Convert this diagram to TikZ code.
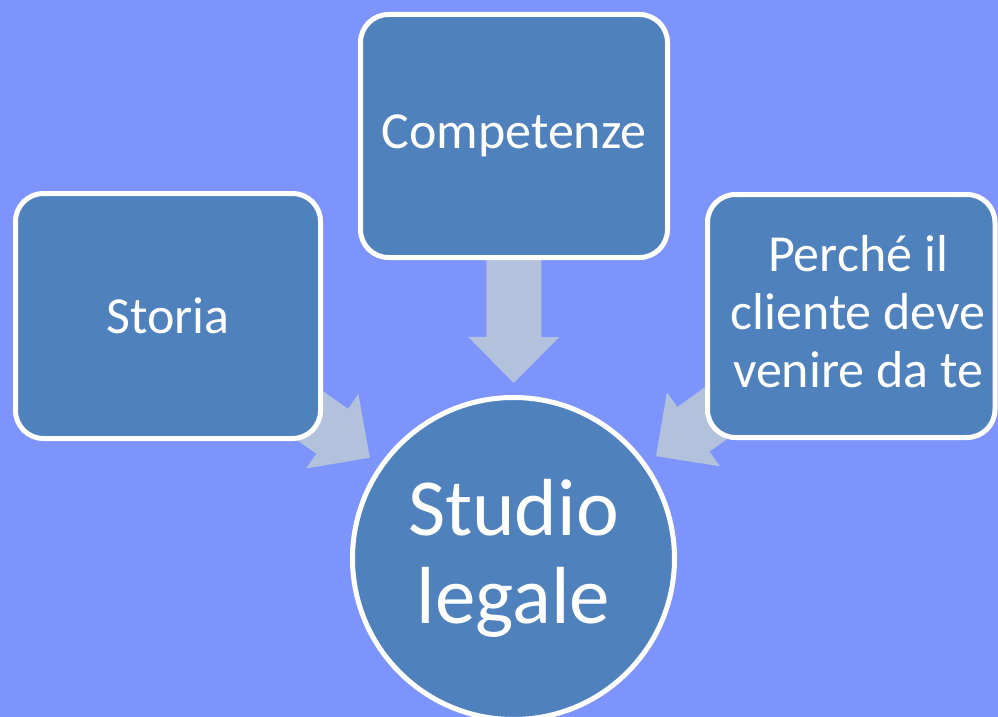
\documentclass[tikz,border=0pt]{standalone}
\usepackage{fontspec}
\setmainfont{Carlito}
\usetikzlibrary{calc}
\definecolor{bgcol}{RGB}{126,148,253}
\definecolor{boxcol}{RGB}{79,129,189}
\definecolor{arrcol}{RGB}{178,194,220}
\pgfdeclarelayer{bglayer}
\pgfdeclarelayer{arrlayer}
\pgfsetlayers{bglayer,arrlayer,main}
% block arrow from node #1 towards node #2
\newcommand\blockarr[2]{%
  \coordinate (T) at ($(#2.center)!175.5pt!(#1.center)$);
  \coordinate (H) at ($(#2.center)!221.5pt!(#1.center)$);
  \fill[arrcol] (T) -- ($(H)!45.5pt!90:(T)$) -- ($(H)!27.5pt!90:(T)$)
    -- ($(#1.center)!27.5pt!90:(#2.center)$) -- ($(#1.center)!27.5pt!-90:(#2.center)$)
    -- ($(H)!27.5pt!-90:(T)$) -- ($(H)!45.5pt!-90:(T)$) -- cycle;}
\begin{document}
\begin{tikzpicture}[x=1pt,y=-1pt,
  box/.style={draw=white, line width=5pt, fill=boxcol, rounded corners=28pt,
    text=white, font=\fontsize{52}{58}\selectfont, align=center, inner sep=0pt},
  boxtext/.style={text=white, font=\fontsize{52}{58}\selectfont, align=center, inner sep=0pt},
  hub/.style={circle, draw=white, line width=5pt, fill=boxcol, minimum size=322pt,
    text=white, font=\fontsize{81}{88}\selectfont, align=center, inner sep=0pt}]
  \useasboundingbox (0,0) rectangle (998,717);
  \begin{pgfonlayer}{bglayer}
    \fill[bgcol] (0,0) rectangle (998,717);
  \end{pgfonlayer}
  \node[box, minimum width=305pt, minimum height=245pt] (storia) at (168,316) {Storia};
  \node[box, minimum width=307pt, minimum height=243pt] (comp) at (514,136) {Competenze};
  \node[box, minimum width=287.5pt, minimum height=243pt] (perche) at (851.25,316) {};
  \node[boxtext] (perchetxt) at (858,312) {Perché il\\cliente deve\\venire da te};
  \node[hub] (studio) at (513.5,558.5) {Studio\\legale};
  \begin{pgfonlayer}{arrlayer}
    \blockarr{storia}{studio}
    \blockarr{comp}{studio}
    \blockarr{perche}{studio}
  \end{pgfonlayer}
\end{tikzpicture}
\end{document}
